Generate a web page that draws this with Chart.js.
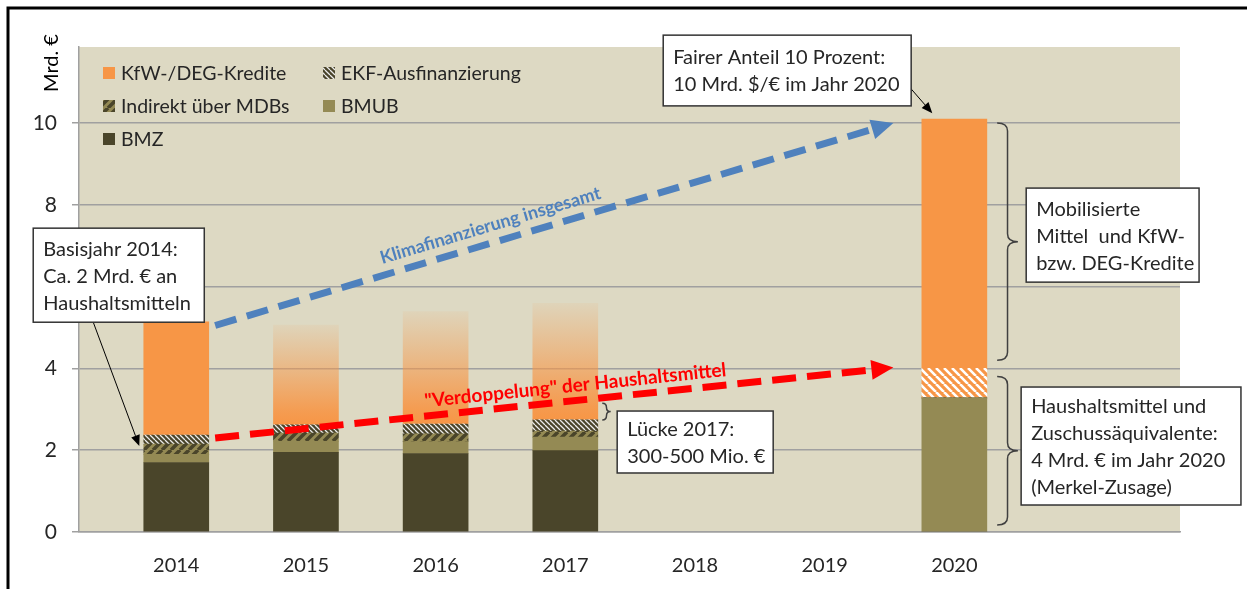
<!DOCTYPE html>
<html>
<head>
<meta charset="utf-8">
<script src="https://cdn.jsdelivr.net/npm/chart.js@4.4.1/dist/chart.umd.min.js"></script>
<style>
  html, body { margin: 0; padding: 0; background: #fff; }
  #wrap { width: 1247px; height: 589px; position: relative; }
</style>
</head>
<body>
<div id="wrap"><canvas id="graphCanvas"></canvas></div>
<script>
// data (Mrd. €)
const years  = [2014, 2015, 2016, 2017, 2018, 2019, 2020];
const bmz    = [1.70, 1.95, 1.92, 1.99, null, null, 0];
const bmub   = [0.20, 0.27, 0.29, 0.33, null, null, 3.28];
const mdbs   = [0.25, 0.20, 0.19, 0.15, null, null, 0];
const ekf    = [0.22, 0.20, 0.24, 0.27, null, null, 0];
const zuschuss2020 = [0, 0, 0, 0, null, null, 0.72];
const kfw    = [2.77, 2.44, 2.75, 2.85, null, null, 6.10];
const fadedYears = [2015, 2016, 2017];
const yTicks = [0, 2, 4, 6, 8, 10];

const FONT = 'Lato';
const ORANGE = '#F79646';
const DARK = '#4A452A';
const OLIVE = '#948A54';
const BEIGE = '#DDD9C3';

function stripes(bg, fg, size, lw, dir) {
    let c = document.createElement('canvas');
    c.width = size; c.height = size;
    let g = c.getContext('2d');
    g.fillStyle = bg;
    g.fillRect(0, 0, size, size);
    g.strokeStyle = fg;
    g.lineWidth = lw;
    g.beginPath();
    for (let k = -1; k <= 1; k++) {
        if (dir > 0) { g.moveTo(k * size, size); g.lineTo(k * size + size, 0); }
        else { g.moveTo(k * size, 0); g.lineTo(k * size + size, size); }
    }
    g.stroke();
    return g.createPattern(c, 'repeat');
}

const ekfPattern = stripes(DARK, '#ececec', 5, 1.3, -1);
const mdbPattern = stripes(OLIVE, DARK, 9, 3.6, 1);
const orangeHatch = stripes(ORANGE, '#ffffff', 8, 2.6, -1);

function toXY(arr) {
    let out = [];
    for (var i in years) {
        if (arr[i] !== null) out.push({ x: years[i], y: arr[i] });
    }
    return out;
}

function kfwColor(ctx) {
    if (ctx.type !== 'data') return ORANGE;
    let yr = ctx.raw ? ctx.raw.x : null;
    let chart = ctx.chart;
    let ys = chart.scales.y;
    if (!fadedYears.includes(yr) || !ys) return ORANGE;
    let i = years.indexOf(yr);
    let base = bmz[i] + bmub[i] + mdbs[i] + ekf[i] + zuschuss2020[i];
    let g = chart.ctx.createLinearGradient(0, ys.getPixelForValue(base), 0, ys.getPixelForValue(base + kfw[i]));
    g.addColorStop(0, 'rgba(247,150,70,1)');
    g.addColorStop(0.12, 'rgba(247,150,70,0.92)');
    g.addColorStop(0.55, 'rgba(247,150,70,0.5)');
    g.addColorStop(1, 'rgba(247,150,70,0.08)');
    return g;
}

// annotations, placed in data units (x = year, y = Mrd. €)
const boxes = [
    { x1: 2017.755, y1: 12.15, x2: 2019.667, y2: 10.42, lines: ['Fairer Anteil 10 Prozent:', '10 Mrd. $/€ im Jahr 2020'] },
    { x1: 2020.554, y1: 8.41, x2: 2021.887, y2: 6.11, lines: ['Mobilisierte', 'Mittel  und KfW-', 'bzw. DEG-Kredite'] },
    { x1: 2020.515, y1: 3.545, x2: 2022.21, y2: 0.66, lines: ['Haushaltsmittel und', 'Zuschussäquivalente:', '4 Mrd. € im Jahr 2020', '(Merkel-Zusage)'] },
    { x1: 2012.897, y1: 7.43, x2: 2014.216, y2: 5.13, lines: ['Basisjahr 2014:', 'Ca. 2 Mrd. € an', 'Haushaltsmitteln'] },
    { x1: 2017.40, y1: 2.958, x2: 2018.603, y2: 1.443, lines: ['Lücke 2017:', '300-500 Mio. €'] }
];
const thinArrows = [
    { x1: 2019.66, y1: 10.86, x2: 2019.83, y2: 10.24 },
    { x1: 2013.36, y1: 5.13, x2: 2013.715, y2: 2.10 }
];
const trendArrows = [
    { x1: 2014.30, y1: 5.05, x2: 2019.53, y2: 10.0, color: '#4F81BD', dash: [22, 11], label: 'Klimafinanzierung insgesamt', labelAt: 2016.46, off: 17, size: 18 },
    { x1: 2014.30, y1: 2.30, x2: 2019.53, y2: 4.02, color: '#FF0000', dash: [24, 11], label: '"Verdoppelung" der Haushaltsmittel', labelAt: 2017.09, off: 15, size: 19 }
];
const braces = [
    { x0: 2020.33, xt: 2020.49, y1: 10.0, y2: 4.2 },
    { x0: 2020.33, xt: 2020.49, y1: 3.8, y2: 0.17 },
    { x0: 2017.285, xt: 2017.35, y1: 3.15, y2: 2.74 }
];

function arrowHead(c, x2, y2, ang, len, hw) {
    let bx = x2 - len * Math.cos(ang), by = y2 - len * Math.sin(ang);
    c.beginPath();
    c.moveTo(x2, y2);
    c.lineTo(bx - hw * Math.sin(ang), by + hw * Math.cos(ang));
    c.lineTo(bx + hw * Math.sin(ang), by - hw * Math.cos(ang));
    c.closePath();
    c.fill();
    return [bx, by];
}

const decor = {
    id: 'decor',
    beforeDraw(chart) {
        let c = chart.ctx, a = chart.chartArea;
        c.save();
        c.fillStyle = '#fff';
        c.fillRect(0, 0, chart.width, chart.height);
        c.fillStyle = BEIGE;
        c.fillRect(a.left, a.top, a.right - a.left, a.bottom - a.top);
        c.strokeStyle = '#000';
        c.lineWidth = 3;
        c.beginPath();
        c.moveTo(8, chart.height);
        c.lineTo(8, 8);
        c.lineTo(chart.width, 8);
        c.stroke();
        // y axis title
        c.translate(a.left - 27, a.top + 16);
        c.rotate(-Math.PI / 2);
        c.fillStyle = '#000';
        c.font = '20px ' + FONT;
        c.textAlign = 'center';
        c.textBaseline = 'middle';
        c.fillText('Mrd. €', 0, 0);
        c.restore();
    },
    afterDraw(chart) {
        let c = chart.ctx, a = chart.chartArea;
        let X = v => chart.scales.x.getPixelForValue(v);
        let Y = v => chart.scales.y.getPixelForValue(v);
        c.save();

        // legend (reverse order, two columns)
        let items = chart.data.datasets.filter(d => !d.noLegend).reverse();
        items.forEach(function (d, k) {
            let lx = a.left + 24 + (k % 2) * 220;
            let ly = a.top + 26 + Math.floor(k / 2) * 33;
            c.fillStyle = d.legendFill || d.backgroundColor;
            c.fillRect(lx, ly - 6, 12, 12);
            c.fillStyle = '#262626';
            c.font = '19.5px ' + FONT;
            c.textAlign = 'left';
            c.textBaseline = 'middle';
            c.fillText(d.label, lx + 18, ly + 1);
        });

        // trend arrows
        trendArrows.forEach(function (t) {
            let x1 = X(t.x1), y1 = Y(t.y1), x2 = X(t.x2), y2 = Y(t.y2);
            let ang = Math.atan2(y2 - y1, x2 - x1);
            c.fillStyle = t.color;
            let b = arrowHead(c, x2, y2, ang, 22, 10);
            c.strokeStyle = t.color;
            c.lineWidth = 7;
            c.setLineDash(t.dash);
            c.beginPath();
            c.moveTo(x1, y1);
            c.lineTo(b[0], b[1]);
            c.stroke();
            c.setLineDash([]);
            let mx = X(t.labelAt);
            let my = y1 + (mx - x1) * Math.tan(ang);
            c.save();
            c.translate(mx + t.off * Math.sin(ang), my - t.off * Math.cos(ang));
            c.rotate(ang);
            c.font = 'bold ' + t.size + 'px ' + FONT;
            c.textAlign = 'center';
            c.textBaseline = 'middle';
            c.fillText(t.label, 0, 0);
            c.restore();
        });

        // thin arrows
        c.strokeStyle = '#000';
        c.fillStyle = '#000';
        c.lineWidth = 1;
        thinArrows.forEach(function (t) {
            let x1 = X(t.x1), y1 = Y(t.y1), x2 = X(t.x2), y2 = Y(t.y2);
            let ang = Math.atan2(y2 - y1, x2 - x1);
            let b = arrowHead(c, x2, y2, ang, 11, 4.5);
            c.beginPath();
            c.moveTo(x1, y1);
            c.lineTo(b[0], b[1]);
            c.stroke();
        });

        // braces
        c.strokeStyle = '#404040';
        c.lineWidth = 1.5;
        braces.forEach(function (b) {
            let x0 = X(b.x0), xt = X(b.xt), y1 = Y(b.y1), y2 = Y(b.y2);
            let xm = (x0 + xt) / 2, ym = (y1 + y2) / 2;
            let r = Math.min(8, (y2 - y1) / 4);
            c.beginPath();
            c.moveTo(x0, y1);
            c.quadraticCurveTo(xm, y1, xm, y1 + r);
            c.lineTo(xm, ym - r);
            c.quadraticCurveTo(xm, ym, xt, ym);
            c.quadraticCurveTo(xm, ym, xm, ym + r);
            c.lineTo(xm, y2 - r);
            c.quadraticCurveTo(xm, y2, x0, y2);
            c.stroke();
        });

        // text boxes
        boxes.forEach(function (b) {
            let x1 = X(b.x1), y1 = Y(b.y1), x2 = X(b.x2), y2 = Y(b.y2);
            c.fillStyle = '#fff';
            c.fillRect(x1, y1, x2 - x1, y2 - y1);
            c.strokeStyle = '#333';
            c.lineWidth = 1.5;
            c.strokeRect(x1, y1, x2 - x1, y2 - y1);
            c.fillStyle = '#262626';
            c.font = '20px ' + FONT;
            c.textAlign = 'left';
            c.textBaseline = 'middle';
            let cy = (y1 + y2) / 2;
            b.lines.forEach(function (s, i) {
                c.fillText(s, x1 + 10, cy + (i - (b.lines.length - 1) / 2) * 27 + 1);
            });
        });
        c.restore();
    }
};

function showGraph() {
    let graphTarget = document.getElementById('graphCanvas');
    let chartdata = {
        datasets: [
            { label: 'BMZ', data: toXY(bmz), backgroundColor: DARK },
            { label: 'BMUB', data: toXY(bmub), backgroundColor: OLIVE },
            { label: 'Indirekt über MDBs', data: toXY(mdbs), backgroundColor: mdbPattern },
            { label: 'EKF-Ausfinanzierung', data: toXY(ekf), backgroundColor: ekfPattern },
            { label: 'Zuschussäquivalente 2020', data: toXY(zuschuss2020), backgroundColor: orangeHatch, noLegend: true },
            { label: 'KfW-/DEG-Kredite', data: toXY(kfw), backgroundColor: kfwColor, legendFill: ORANGE }
        ]
    };
    new Chart(graphTarget, {
        type: 'bar',
        data: chartdata,
        plugins: [decor],
        options: {
            responsive: true,
            maintainAspectRatio: false,
            animation: false,
            barThickness: 65,
            borderWidth: 0,
            layout: { padding: { top: 47, right: 67, left: 0, bottom: 0 } },
            plugins: { legend: { display: false }, tooltip: { enabled: false } },
            scales: {
                x: {
                    type: 'linear',
                    min: 2013.25,
                    max: 2021.74,
                    stacked: true,
                    offset: false,
                    afterBuildTicks: s => { s.ticks = years.map(v => ({ value: v })); },
                    afterFit: s => { s.height = 57; },
                    grid: { display: false, drawTicks: false },
                    border: { display: true, color: '#a0a0a0', width: 1.5 },
                    ticks: { padding: 22, autoSkip: false, maxRotation: 0, color: '#262626',
                             font: { family: FONT, size: 20 }, callback: v => String(v) }
                },
                y: {
                    stacked: true,
                    min: 0,
                    max: 11.86,
                    afterBuildTicks: s => { s.ticks = yTicks.map(v => ({ value: v })); },
                    afterFit: s => { s.width = 79; },
                    grid: { color: '#a0a0a0', lineWidth: 1.5, tickLength: 7, drawTicks: true },
                    border: { display: true, color: '#a0a0a0', width: 1.5 },
                    ticks: { padding: 15, color: '#262626', font: { family: FONT, size: 21 } }
                }
            }
        }
    });
}

showGraph();
</script>
</body>
</html>
